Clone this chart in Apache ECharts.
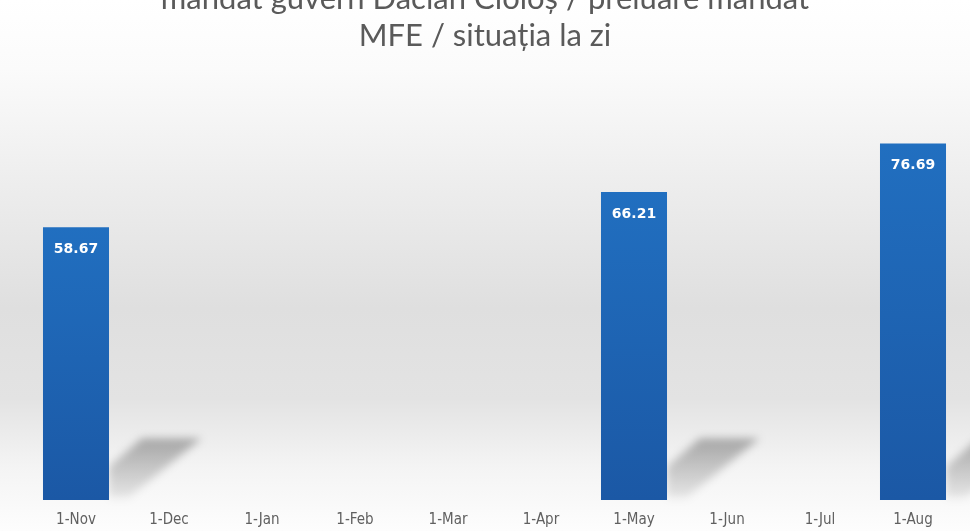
<!DOCTYPE html>
<html>
<head>
<meta charset="utf-8">
<script src="https://cdn.jsdelivr.net/npm/echarts@6/dist/echarts.min.js"></script>
<style>
  html, body { margin: 0; padding: 0; background: #fff; }
  #main { width: 970px; height: 531px; }
</style>
</head>
<body>
<div id="main"></div>
<script>
// date (prima zi a lunii) si valorile masurate
var months = ['1-Nov', '1-Dec', '1-Jan', '1-Feb', '1-Mar', '1-Apr', '1-May', '1-Jun', '1-Jul', '1-Aug'];
var values = [58.67, '-', '-', '-', '-', '-', 66.21, '-', '-', 76.69];

var chart = echarts.init(document.getElementById('main'));

// umbra oblica din spatele fiecarei coloane (desenata doar prin shadow, forma e in afara ecranului)
function renderShadow(params, api) {
    var v = api.value(1);
    if (v === '-' || v == null || isNaN(v)) return;
    var base = api.coord([api.value(0), 0]);
    var w = api.size([1, 0])[0] * 0.71;
    var xr = base[0] + w / 2;
    var yb = base[1];
    var off = 3000;
    return {
        type: 'polygon',
        shape: {
            points: [
                [xr - off, yb - 2],
                [xr - off, yb - w * 0.5],
                [xr + w * 0.5 - off, yb - w * 0.93],
                [xr + w * 1.4 - off, yb - w * 0.93],
                [xr + w * 0.3 - off, yb - 2]
            ]
        },
        style: {
            fill: {
                type: 'linear', x: 0, y: 0, x2: 0, y2: 1,
                colorStops: [
                    { offset: 0, color: 'rgba(0,0,0,1)' },
                    { offset: 1, color: 'rgba(0,0,0,0.25)' }
                ]
            },
            shadowColor: 'rgba(0,0,0,0.3)',
            shadowBlur: 8,
            shadowOffsetX: off
        }
    };
}

chart.setOption({
    backgroundColor: {
        type: 'linear', x: 0, y: 0, x2: 0, y2: 1,
        colorStops: [
            { offset: 0, color: '#ffffff' },
            { offset: 0.13, color: '#fbfbfb' },
            { offset: 0.35, color: '#ededed' },
            { offset: 0.58, color: '#dfdfdf' },
            { offset: 0.75, color: '#e3e3e3' },
            { offset: 0.88, color: '#f4f4f4' },
            { offset: 1, color: '#fdfdfd' }
        ]
    },
    title: {
        text: 'mandat guvern Dacian Cioloș / preluare mandat\nMFE / situația la zi',
        left: 'center',
        top: -20,
        padding: 0,
        textStyle: {
            fontFamily: 'Lato',
            fontWeight: 'normal',
            fontSize: 31,
            lineHeight: 37,
            color: '#5a5a5a'
        }
    },
    grid: { left: 29.5, right: 10.5, top: 35, bottom: 31 },
    xAxis: {
        type: 'category',
        data: months,
        axisLine: { show: false },
        axisTick: { show: false },
        axisLabel: {
            margin: 13,
            fontFamily: 'DejaVu Sans Condensed',
            fontSize: 15,
            color: '#606060'
        }
    },
    yAxis: {
        type: 'value',
        min: 0,
        max: 100,
        show: false,
        splitLine: { show: false }
    },
    series: [
        {
            type: 'custom',
            renderItem: renderShadow,
            data: months.map(function (m, i) { return [i, values[i]]; }),
            z: 1,
            silent: true
        },
        {
            type: 'bar',
            data: values,
            barWidth: '71%',
            z: 2,
            itemStyle: {
                color: {
                    type: 'linear', x: 0, y: 0, x2: 0, y2: 1,
                    colorStops: [
                        { offset: 0, color: '#216fc0' },
                        { offset: 1, color: '#1b58a5' }
                    ]
                }
            },
            label: {
                show: true,
                position: 'insideTop',
                distance: 15,
                color: '#ffffff',
                fontFamily: 'DejaVu Sans',
                fontWeight: 'bold',
                fontSize: 14
            }
        }
    ]
});
</script>
</body>
</html>
